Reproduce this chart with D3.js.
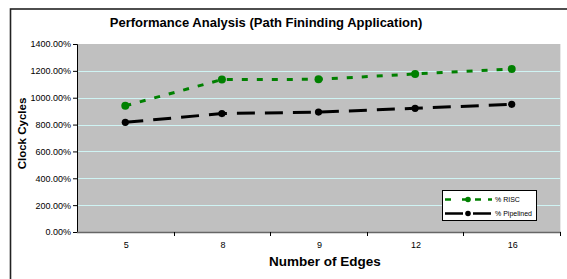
<!DOCTYPE html>
<html><head><meta charset="utf-8">
<script src="https://cdn.jsdelivr.net/npm/d3@7/dist/d3.min.js"></script>
<style>body{margin:0;background:#fff}svg{display:block}text{font-family:"Liberation Sans",Arial,sans-serif}</style>
</head><body>
<svg id="c" width="567" height="279"></svg>
<script>
const categories = ["5","8","9","12","16"];
const riscValues = [940, 1135, 1137, 1177, 1213];
const pipelinedValues = [817, 882, 893, 921, 951];
const yTicks = [0,200,400,600,800,1000,1200,1400];
const seriesNames = ["% RISC","% Pipelined"];

const svg = d3.select("#c");
// outer chart frame
svg.append("rect").attr("x",10.5).attr("y",9).attr("width",600).attr("height",300)
  .attr("fill","#fff").attr("stroke","#222").attr("stroke-width",1.6);

const L=77, R=560, T=44, B=232;
const x = d3.scaleBand().domain(categories).range([L,R]).padding(0);
const y = d3.scaleLinear().domain([0,1400]).range([B,T]);

svg.append("rect").attr("x",L).attr("y",T).attr("width",R-L).attr("height",B-T).attr("fill","#c0c0c0");
svg.append("line").attr("x1",R+0.5).attr("x2",R+0.5).attr("y1",T).attr("y2",B).attr("stroke","#e8e8e8");

// gridlines
svg.append("g").selectAll("line").data(yTicks.filter(d=>d>0&&d<1400)).join("line")
  .attr("x1",L).attr("x2",R).attr("y1",d=>Math.round(y(d))+0.5).attr("y2",d=>Math.round(y(d))+0.5)
  .attr("stroke","#cff4f4").attr("stroke-width",1);

// y axis
const yAxis = d3.axisLeft(y).tickValues(yTicks).tickSize(4).tickPadding(2)
  .tickFormat(d=>d3.format(".2f")(d)+"%");
const gy = svg.append("g").attr("transform",`translate(${L},0)`).call(yAxis);
gy.select(".domain").attr("stroke","#000");
gy.selectAll(".tick line").attr("stroke","#000");
gy.selectAll("text").attr("font-size",9).attr("fill","#000").attr("font-family","Liberation Sans, Arial, sans-serif");

// x axis
const gx = svg.append("g").attr("transform",`translate(0,${B})`);
gx.append("line").attr("x1",L).attr("x2",R+1).attr("y1",0.5).attr("y2",0.5).attr("stroke","#666").attr("stroke-width",1.6);
const bounds = categories.map(c=>x(c)+x.bandwidth());
gx.selectAll("line.t").data(bounds).join("line").attr("class","t")
  .attr("x1",d=>Math.round(d)+0.5).attr("x2",d=>Math.round(d)+0.5).attr("y1",0).attr("y2",4).attr("stroke","#000");
gx.selectAll("text").data(categories).join("text")
  .attr("x",d=>x(d)+x.bandwidth()/2+1).attr("y",16).attr("text-anchor","middle")
  .attr("font-size",9).text(d=>d);

// titles
svg.append("text").attr("x",266).attr("y",27).attr("text-anchor","middle")
  .attr("font-size",13).attr("font-weight","bold").text("Performance Analysis (Path Fininding Application)");
svg.append("text").attr("x",325).attr("y",266).attr("text-anchor","middle")
  .attr("font-size",13.5).attr("font-weight","bold").text("Number of Edges");
svg.append("text").attr("transform","translate(26,133.5) rotate(-90)").attr("text-anchor","middle")
  .attr("font-size",11.5).attr("font-weight","bold").text("Clock Cycles");

const cx = d=>x(d)+x.bandwidth()/2;
const line = d3.line().x((d,i)=>cx(categories[i])).y(d=>y(d));
const series = [
  {name:seriesNames[0], values:riscValues, color:"#008000", dash:"6,9", r:4, ldash:"6,11,7,6,6,7"},
  {name:seriesNames[1], values:pipelinedValues, color:"#000", dash:"18,10", r:3.6, ldash:"18,10"}
];
series.forEach(s=>{
  svg.append("path").attr("d",line(s.values)).attr("fill","none").attr("stroke",s.color)
    .attr("stroke-width",3).attr("stroke-dasharray",s.dash);
  svg.append("g").selectAll("circle").data(s.values).join("circle")
    .attr("cx",(d,i)=>cx(categories[i])).attr("cy",d=>y(d)).attr("r",s.r).attr("fill",s.color);
});

// legend
const lg = svg.append("g");
lg.append("rect").attr("x",442.5).attr("y",190.5).attr("width",94).attr("height",30).attr("fill","#fff").attr("stroke","#000");
series.forEach((s,i)=>{
  const yy = 199.5 + i*14;
  lg.append("line").attr("x1",445).attr("x2",492).attr("y1",yy).attr("y2",yy)
    .attr("stroke",s.color).attr("stroke-width",2.5).attr("stroke-dasharray", s.ldash);
  lg.append("circle").attr("cx",468).attr("cy",yy).attr("r",2.8).attr("fill",s.color);
  lg.append("text").attr("x",495).attr("y",yy+2.5).attr("font-size",7).text(s.name);
});
</script>
</body></html>
